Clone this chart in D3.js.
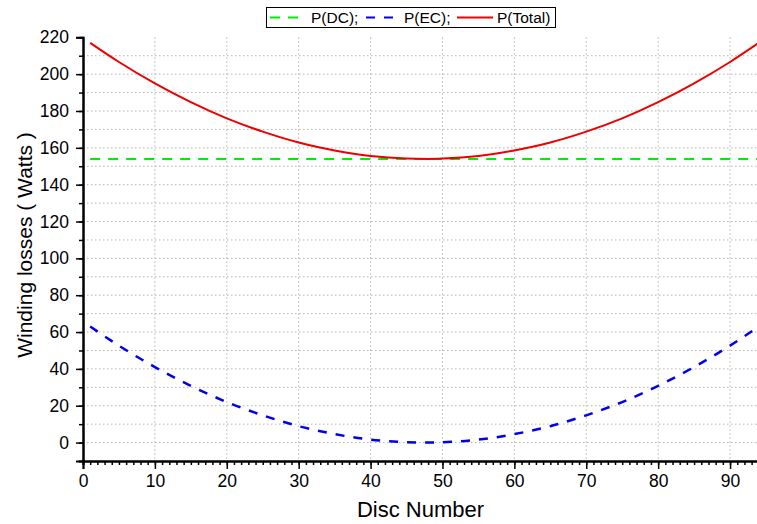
<!DOCTYPE html>
<html><head><meta charset="utf-8">
<script src="https://cdn.jsdelivr.net/npm/d3@7"></script>
<style>body{margin:0;background:#fff}svg{display:block;font-family:"Liberation Sans",Arial,sans-serif}</style>
</head><body><svg id="c" width="757" height="524"></svg>
<script>
const disc = [1,5,10,15,20,25,30,35,40,45,48,50,55,60,65,70,75,80,85,90,94];
const pDC  = [154,154,154,154,154,154,154,154,154,154,154,154,154,154,154,154,154,154,154,154,154];
const pEC  = [63.0,52.6,41.0,30.8,22.0,14.8,8.9,4.6,1.6,0.2,0.0,0.2,1.6,4.6,8.9,14.8,22.0,30.8,41.0,52.6,63.0];
const pTotal = [217,206.6,195,184.8,176,168.8,162.9,158.6,155.6,154.2,154,154.2,155.6,158.6,162.9,168.8,176,184.8,195,206.6,217];
const xTicks = [0,10,20,30,40,50,60,70,80,90];
const yTicks = [0,20,40,60,80,100,120,140,160,180,200,220];
const legendLabels = ["P(DC);","P(EC);","P(Total)"];

const svg = d3.select("#c");
const L=83, R=758.8, T=37.3, B=461;
const x = d3.scaleLinear().domain([0,94]).range([L,R]);
const y = d3.scaleLinear().domain([-10,220]).range([B,T]);

// grid
const g = svg.append("g");
g.selectAll(".gx").data(xTicks.filter(d=>d>0)).join("line")
  .attr("x1",d=>x(d)).attr("x2",d=>x(d)).attr("y1",T).attr("y2",B)
  .attr("stroke","#b4b4b4").attr("stroke-width",1).attr("stroke-dasharray","1.5,2.5");
g.selectAll(".gy").data(d3.range(0,220,10)).join("line")
  .attr("x1",L).attr("x2",R).attr("y1",d=>y(d)).attr("y2",d=>y(d))
  .attr("stroke","#b4b4b4").attr("stroke-width",1).attr("stroke-dasharray","1.5,2.5");

// axes
const xAxis = d3.axisBottom(x).tickValues(xTicks).tickSize(8).tickPadding(6).tickFormat(d3.format("d"));
const xMinor = d3.axisBottom(x).tickValues(d3.range(0,95,1)).tickSize(4).tickFormat("");
const yAxis = d3.axisLeft(y).tickValues(yTicks).tickSize(7).tickPadding(7).tickFormat(d3.format("d"));
const yMinor = d3.axisLeft(y).tickValues(d3.range(-10,221,10)).tickSize(4).tickFormat("");

function style(sel){
  sel.select(".domain").attr("stroke","#000").attr("stroke-width",2);
  sel.selectAll(".tick line").attr("stroke","#000").attr("stroke-width",1.5);
  sel.selectAll("text").attr("font-size",17.5).attr("fill","#000").attr("font-family","Liberation Sans, Arial, sans-serif");
}
svg.append("g").attr("transform",`translate(0,${B})`).call(xMinor).call(style);
svg.append("g").attr("transform",`translate(0,${B})`).call(xAxis).call(style);
svg.append("g").attr("transform",`translate(${L},0)`).call(yMinor).call(style);
svg.append("g").attr("transform",`translate(${L},0)`).call(yAxis).call(style);

// lines
const mk = vals => d3.line().x((d,i)=>x(disc[i])).y(d=>y(d)).curve(d3.curveMonotoneX)(vals);
const series = [
  {v:pDC, c:"#00ee00", w:2, dash:"10,8"},
  {v:pEC, c:"#0000ee", w:2.5, dash:"9,9"},
  {v:pTotal, c:"#ee0000", w:2, dash:null}
];
series.forEach(s=>{
  svg.append("path").attr("d",mk(s.v)).attr("fill","none").attr("stroke",s.c)
    .attr("stroke-width",s.w).attr("stroke-dasharray",s.dash);
});

// axis titles
svg.append("text").attr("x",420.5).attr("y",517).attr("text-anchor","middle")
  .attr("font-size",22).text("Disc Number");
svg.append("text").attr("transform",`translate(32,245) rotate(-90)`).attr("text-anchor","middle")
  .attr("font-size",21).text("Winding losses ( Watts )");

// legend
const lg = svg.append("g");
lg.append("rect").attr("x",266.5).attr("y",7.5).attr("width",289).attr("height",20)
  .attr("fill","#fff").attr("stroke","#000").attr("stroke-width",1);
const legX = [[270,298,311],[366,393,404],[457,493,497]];
series.forEach((s,i)=>{
  lg.append("line").attr("x1",legX[i][0]).attr("x2",legX[i][1]).attr("y1",17.5).attr("y2",17.5)
    .attr("stroke",s.c).attr("stroke-width",2).attr("stroke-dasharray",s.dash);
  lg.append("text").attr("x",legX[i][2]).attr("y",23).attr("font-size",15.5).text(legendLabels[i]);
});
</script></body></html>
